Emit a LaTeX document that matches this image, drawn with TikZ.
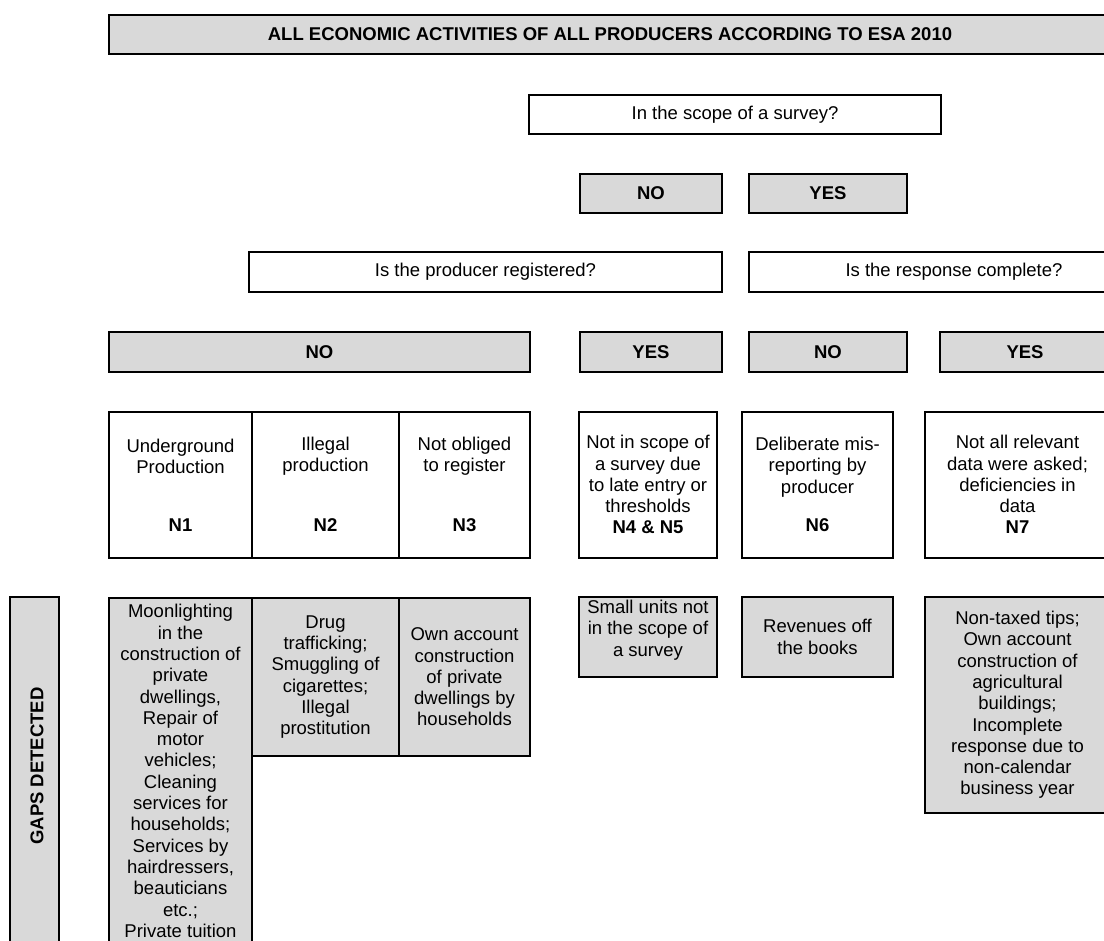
\documentclass[tikz,border=0pt]{standalone}
\usepackage{fontspec}
\setmainfont{Liberation Sans}
\usetikzlibrary{calc}
\definecolor{cellgray}{HTML}{D9D9D9}
\tikzset{
  cell/.style={draw=black, line width=1.8pt, inner sep=0pt, align=center,
    font=\fontsize{18.5pt}{21.3pt}\selectfont},
  shaded/.style={cell, fill=cellgray},
  plain/.style={cell, fill=white},
  boldtxt/.style={font=\fontsize{18.5pt}{21.3pt}\selectfont\bfseries},
  txt/.style={inner sep=0pt, align=center, font=\fontsize{18.5pt}{21.3pt}\selectfont},
}
% a rectangular cell given by its corners: style, name, x1, y1, x2, y2, text
\newcommand\cellnode[7]{%
  \pgfmathsetmacro\cellwd{#5-#3}%
  \pgfmathsetmacro\cellht{#6-#4}%
  \node[#1, minimum width=\cellwd pt, minimum height=\cellht pt]
    (#2) at ({(#3+#5)/2},{(#4+#6)/2}) {#7};}
\begin{document}
\begin{tikzpicture}[x=1pt,y=-1pt]
\useasboundingbox (0,0) rectangle (1104,941);
\clip (0,0) rectangle (1104,941);

% header
\cellnode{shaded, boldtxt}{title}{109}{15}{1111}{54}
  {ALL ECONOMIC ACTIVITIES OF ALL PRODUCERS ACCORDING TO ESA 2010}

% first question and its answers
\cellnode{plain}{scope}{529}{95}{941}{134}{In the scope of a survey?}
\cellnode{shaded, boldtxt}{scopeno}{580}{174}{722}{213}{NO}
\cellnode{shaded, boldtxt}{scopeyes}{749}{174}{907}{213}{YES}

% second-level questions
\cellnode{plain}{reg}{249}{252}{722}{292}{Is the producer registered?}
\cellnode{plain}{resp}{749}{252}{1159}{292}{Is the response complete?}

\cellnode{shaded, boldtxt}{regno}{109}{332}{530}{372}{NO}
\cellnode{shaded, boldtxt}{regyes}{580}{332}{722}{372}{YES}
\cellnode{shaded, boldtxt}{respno}{749}{332}{907}{372}{NO}
\cellnode{shaded, boldtxt}{respyes}{940}{332}{1110}{372}{YES}

% N-type categories
\cellnode{plain}{n1}{109}{412}{252}{558}{}
\cellnode{plain}{n2}{252}{412}{399}{558}{}
\cellnode{plain}{n3}{399}{412}{530}{558}{}
\cellnode{plain}{n45}{579}{412}{717}{558}{}
\cellnode{plain}{n6}{742}{412}{893}{558}{}
\cellnode{plain}{n7}{925}{412}{1110}{558}{}

\node[txt] (n1text) at ($(n1.north)+(0,45)$) {Underground\\Production};
\node[txt, boldtxt] (n1code) at ($(n1.north)+(0,114)$) {N1};
\node[txt] (n2text) at ($(n2.north)+(0,45)$) {Illegal\\production};
\node[txt, boldtxt] (n2code) at ($(n2.north)+(0,114)$) {N2};
\node[txt] (n3text) at ($(n3.north)+(0,45)$) {Not obliged\\to register};
\node[txt, boldtxt] (n3code) at ($(n3.north)+(0,114)$) {N3};
\node[txt] (n45text) at ($(n45.north)+(0,63)$)
  {Not in scope of\\a survey due\\to late entry or\\thresholds};
\node[txt, boldtxt] (n45code) at ($(n45.north)+(0,116)$) {N4 \& N5};
\node[txt] (n6text) at ($(n6.north)+(0,56)$) {Deliberate mis-\\reporting by\\producer};
\node[txt, boldtxt] (n6code) at ($(n6.north)+(0,114)$) {N6};
\node[txt] (n7text) at ($(n7.north)+(0,63)$)
  {Not all relevant\\data were asked;\\deficiencies in\\data};
\node[txt, boldtxt] (n7code) at ($(n7.north)+(0,116)$) {N7};

% detected gaps
\cellnode{shaded}{gapsbox}{10}{597}{59}{960}{}
\node[txt, boldtxt, rotate=90] (gapslabel) at (37,766) {GAPS DETECTED};

\cellnode{shaded}{g1}{109}{598}{252}{944}
  {Moonlighting\\in the\\construction of\\private\\dwellings,\\Repair of\\motor\\vehicles;\\Cleaning\\services for\\households;\\Services by\\hairdressers,\\beauticians\\etc.;\\Private tuition}
\cellnode{shaded}{g2}{252}{598}{399}{756}
  {Drug\\trafficking;\\Smuggling of\\cigarettes;\\Illegal\\prostitution}
\cellnode{shaded}{g3}{399}{598}{530}{756}
  {Own account\\construction\\of private\\dwellings by\\households}
\cellnode{shaded}{g45}{579}{597}{717}{677}{}
\node[txt] (g45text) at (648,630) {Small units not\\in the scope of\\a survey};
\cellnode{shaded}{g6}{742}{597}{893}{677}{Revenues off\\the books}
\cellnode{shaded}{g7}{925}{597}{1110}{813}
  {Non-taxed tips;\\Own account\\construction of\\agricultural\\buildings;\\Incomplete\\response due to\\non-calendar\\business year}
\end{tikzpicture}
\end{document}
